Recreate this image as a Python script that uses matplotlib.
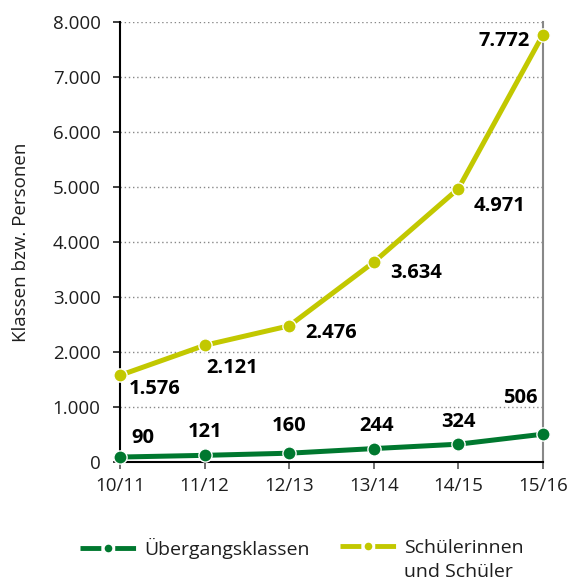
import matplotlib.pyplot as plt
from matplotlib.lines import Line2D

plt.rcParams['font.family'] = ['Open Sans', 'DejaVu Sans']
plt.rcParams['lines.scale_dashes'] = False

years = ['10/11', '11/12', '12/13', '13/14', '14/15', '15/16']
klassen = [90, 121, 160, 244, 324, 506]
schueler = [1576, 2121, 2476, 3634, 4971, 7772]
yticks = [0, 1000, 2000, 3000, 4000, 5000, 6000, 7000, 8000]

GREEN = '#00782f'
YELLOW = '#c2c800'
TXT = '#1e1e1e'
W, H = 580, 580


def fmt(v):
    return '{:,}'.format(v).replace(',', '.')


fig = plt.figure(figsize=(5.8, 5.8), dpi=100)
ax = fig.add_axes([120 / W, 1 - 462 / H, 423 / W, 440 / H])
x = list(range(len(years)))

ax.plot(x, schueler, color=YELLOW, lw=3.6, marker='o', ms=9.5,
        mec='white', mew=1, zorder=3, clip_on=False)
ax.plot(x, klassen, color=GREEN, lw=3.6, marker='o', ms=9.5,
        mec='white', mew=1, zorder=3, clip_on=False)

# label offsets in pixels
y_off = [(35, -14), (28, -23), (42, -7), (42, -11), (41, -17), (-39, -6)]
g_off = [(23, 19), (0, 23), (0, 27), (3, 23), (0, 22), (-23, 36)]
for i in x:
    ax.annotate(fmt(schueler[i]), (i, schueler[i]), xytext=y_off[i],
                textcoords='offset pixels', ha='center', va='center',
                fontsize=14.5, fontweight='bold', color='black', zorder=4)
    ax.annotate(fmt(klassen[i]), (i, klassen[i]), xytext=g_off[i],
                textcoords='offset pixels', ha='center', va='center',
                fontsize=14.5, fontweight='bold', color='black', zorder=4)

ax.set_xlim(0, 5)
ax.set_ylim(0, 8000)
ax.set_xticks(x)
ax.set_xticklabels(years)
ax.set_yticks(yticks)
ax.set_yticklabels([fmt(v) for v in yticks])
ax.tick_params(labelsize=13.5, colors=TXT, length=5, width=1.2)
ax.tick_params(axis='x', pad=6, color='#555555')
ax.tick_params(axis='y', pad=9)
ax.set_ylabel('Klassen bzw. Personen', fontsize=13.5, color=TXT, labelpad=16)

ax.yaxis.grid(True, linestyle=(0, (1, 2)), color='#888888', lw=1)
ax.set_axisbelow(True)
ax.spines['top'].set_visible(False)
ax.spines['right'].set_color('#888888')
ax.spines['right'].set_linewidth(1.5)
ax.spines['left'].set_linewidth(1.5)
ax.spines['bottom'].set_linewidth(1.5)

# legend: dash - dot - dash handles
h_green = Line2D([], [], color=GREEN, lw=3.5, linestyle=(0, (15, 10)),
                 marker='o', ms=5.5, mew=0)
h_yellow = Line2D([], [], color=YELLOW, lw=3.5, linestyle=(0, (15, 10)),
                  marker='o', ms=5.5, mew=0)
leg_kw = dict(loc='center left', frameon=False, fontsize=14, handlelength=2.86,
              handletextpad=0.45, borderpad=0, borderaxespad=0, numpoints=1,
              labelcolor=TXT)
fig.legend([h_green], ['Übergangsklassen'], bbox_to_anchor=(80 / W, 1 - 548 / H), **leg_kw)
leg2 = fig.legend([h_yellow], ['Schülerinnen'], bbox_to_anchor=(340 / W, 1 - 548 / H), **leg_kw)

fig.canvas.draw()
bb = leg2.get_texts()[0].get_window_extent(fig.canvas.get_renderer())
fig.text(bb.x0 / W, (bb.y0 - 24) / H, 'und Schüler', fontsize=14, color=TXT,
         ha='left', va='bottom')

fig.savefig('out.png', dpi=100)
